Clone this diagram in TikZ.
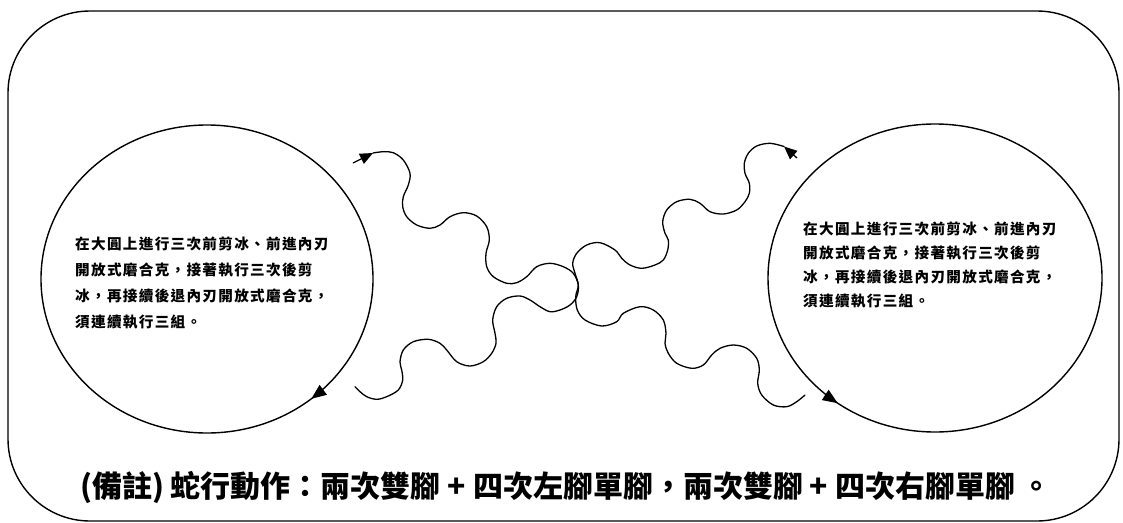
\documentclass[tikz,border=0pt]{standalone}
\usepackage{fontspec}
\newfontfamily\cjk{Noto Sans CJK TC}
\newfontfamily\cjkls[LetterSpace=9]{Noto Sans CJK TC}
\usetikzlibrary{arrows.meta,decorations.markings}
\begin{document}
\begin{tikzpicture}[x=1pt,y=-1pt,
  frame/.style={line width=1.4pt, rounded corners=82pt},
  ring/.style={line width=1.4pt},
  wave/.style={line width=1.3pt, line join=round, line cap=round},
  arr/.style={line width=1.3pt, -{Triangle[length=13pt,width=11pt]}},
  cjknote/.style={font=\cjkls\bfseries\fontsize{14.6}{16}\selectfont, anchor=base west, inner sep=0pt},
  remark/.style={font=\cjk\bfseries\fontsize{30}{33}\selectfont, anchor=base, inner sep=0pt}]
\useasboundingbox (0,0) rectangle (1123,522);
\fill[white] (0,0) rectangle (1123,522);
% outer frame
\draw[frame] (8,11) rectangle (1119,521);
% circles
\coordinate (lc) at (207,279);
\coordinate (rc) at (935,278);
\draw[ring, postaction={decorate}, decoration={markings,
  mark=at position 0.139 with {\arrow{Triangle[length=15pt,width=12pt]}}}]
  (lc) ellipse [x radius=166, y radius=154];
\draw[ring, postaction={decorate}, decoration={markings,
  mark=at position 0.352 with {\arrowreversed{Triangle[length=15pt,width=12pt]}}}]
  (rc) ellipse [x radius=167, y radius=154];
% circle texts
\node[cjknote] (lt1) at (75,249) {在大圓上進行三次前剪冰、前進內刃};
\node[cjknote] (lt2) at (75,275) {開放式磨合克，接著執行三次後剪};
\node[cjknote] (lt3) at (75,301) {冰，再接續後退內刃開放式磨合克，};
\node[cjknote] (lt4) at (75,327) {須連續執行三組。};
\node[cjknote] (rt1) at (803,234) {在大圓上進行三次前剪冰、前進內刃};
\node[cjknote] (rt2) at (803,258) {開放式磨合克，接著執行三次後剪};
\node[cjknote] (rt3) at (803,282.5) {冰，再接續後退內刃開放式磨合克，};
\node[cjknote] (rt4) at (803,306.7) {須連續執行三組。};
% left serpentine
\coordinate (la0) at (353,163);
\coordinate (la1) at (373,153);
\coordinate (lend) at (355,386.7);
\draw[arr] (la0) -- (la1);
\draw[wave] plot[smooth, tension=0.55] coordinates {
 (la1) (383.3,151.7) (393.3,152.7) (403.3,160) (410,173.3) (408.3,185)
 (403.3,196.7) (402.7,206.7) (406.7,216.7) (416.7,225) (430,228.3)
 (440,225) (450,216.7) (463.3,212.7) (476.7,216) (486.7,226.7) (489.3,240)
 (486,253.3) (486.7,266.7) (493.3,276.7) (506.7,283.3) (516.7,282.7)
 (526.7,276.7) (536.7,266.7) (550,263.3) (563.3,266.7) (573.3,273.3)
 (578.3,285) (576.7,296.7) (570,305) (560,310) (550,311.7) (540,306.7)
 (530,300) (520,296) (506.7,298.3) (496.7,306.7) (492.7,320) (495,333.3)
 (496,343.3) (491.7,353.3) (483.3,361.7) (470,366) (456.7,361.7)
 (446.7,350) (440,343.3) (428.3,339.3) (413.3,341.7) (403.3,350)
 (400,361.7) (401.7,370) (402.7,380) (398.3,390) (386.7,396.7)
 (376.7,399.3) (366.7,396.7) (360,391.7) (lend)};
% right serpentine
\coordinate (ra0) at (797,158);
\coordinate (ra1) at (784,146.5);
\coordinate (rend) at (805,395);
\draw[arr] (ra0) -- (ra1);
\draw[wave] plot[smooth, tension=0.55] coordinates {
 (ra1) (770,143.3) (756.7,146) (748.3,153.3) (744.3,163.3) (745,173.3)
 (749.3,183.3) (749.3,193.3) (745,201.7) (736.7,210) (723.3,214)
 (710,211.7) (700,203.3) (690,199.3) (676.7,201.7) (666.7,210)
 (662.7,221.7) (665,233.3) (668.3,240) (667.7,250) (663.3,260) (655,265)
 (641.7,268.3) (630,265) (621.7,258.3) (615,250) (600,242.7) (586.7,245)
 (576.7,253.3) (572.7,263.3) (575,273.3) (578.3,285) (575.7,296.7)
 (577.3,310) (585,320) (601.7,326) (616.7,321.7) (623.3,313.3) (640,306.7)
 (653.3,310) (663.3,320) (666,333.3) (665,343.3) (668.3,353.3)
 (676.7,363.3) (691.7,368.3) (703.3,365) (711.7,355) (720,348.3)
 (733.3,345) (746.7,348.3) (756.7,358.3) (759.3,370) (757.7,383.3)
 (761.7,395) (773.3,405) (786.7,406.7) (796.7,401.7) (rend)};
% remark
\node[remark] (rm) at (566,497) {(備註) 蛇行動作：兩次雙腳\ + 四次左腳單腳，兩次雙腳\ + 四次右腳單腳 。};
\end{tikzpicture}
\end{document}
